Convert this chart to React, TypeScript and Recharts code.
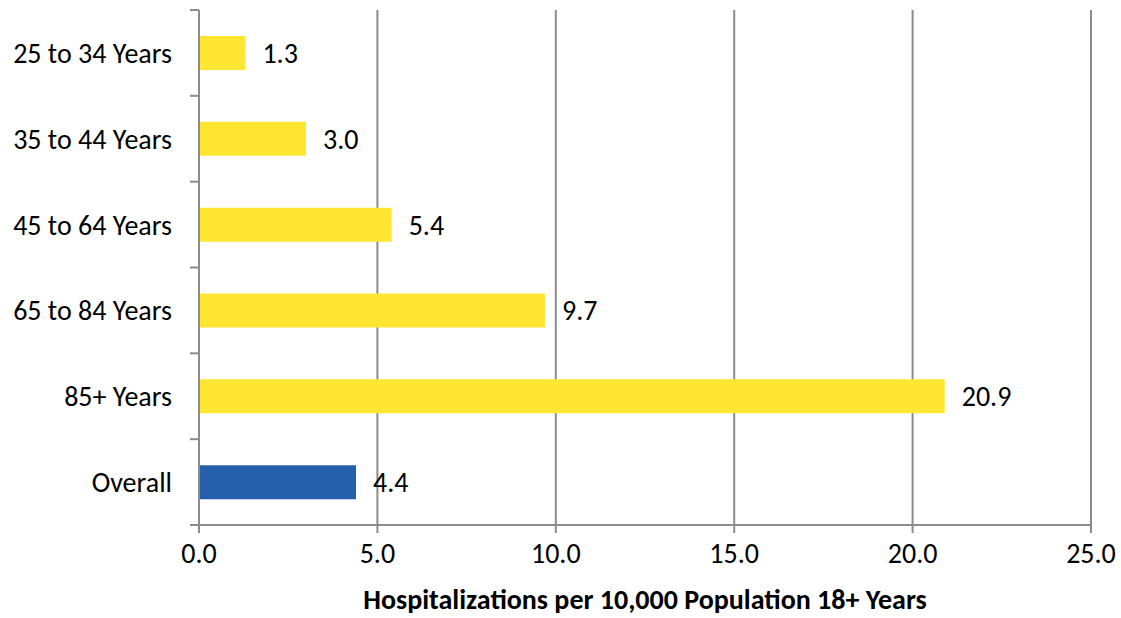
import { BarChart, Bar, XAxis, YAxis, CartesianGrid, Cell, LabelList } from 'recharts';

const categories = ['25 to 34 Years', '35 to 44 Years', '45 to 64 Years', '65 to 84 Years', '85+ Years', 'Overall'];
const rates = [1.3, 3.0, 5.4, 9.7, 20.9, 4.4];
const barColors = ['#FFE633', '#FFE633', '#FFE633', '#FFE633', '#FFE633', '#2360A9'];
const xTicks = [0, 5, 10, 15, 20, 25];
const axisTitle = 'Hospitalizations per 10,000 Population 18+ Years';

const FONT = 'Carlito, Calibri, Lato, sans-serif';
const FS = 28;
const GRID = '#8c8c8c';

const data = categories.map((name, i) => ({ name, rate: rates[i] }));

// category ticks sit between bands, like Excel does
function CategoryTick(props: any) {
    const { x, y, payload, index } = props;
    const half = payload.offset || 0;
    const axisX = x + 9 + 18;
    return (
        <g>
            {index === 0 && <line x1={axisX - 9} x2={axisX} y1={y - half} y2={y - half} stroke={GRID} strokeWidth={2} />}
            <line x1={axisX - 9} x2={axisX} y1={y + half} y2={y + half} stroke={GRID} strokeWidth={2} />
            <text x={x} y={y} dy="0.36em" textAnchor="end" fontSize={FS} fill="#000" fontFamily={FONT}>
                {payload.value}
            </text>
        </g>
    );
}

function AxisTitle(props: any) {
    const vb = props.viewBox;
    return (
        <text x={vb.x + vb.width / 2} y={vb.y + 84} textAnchor="middle" fontSize={FS} fontWeight={700} fill="#000" fontFamily={FONT}>
            {axisTitle}
        </text>
    );
}

export default function App() {
    return (
        <div style={{ position: 'absolute', left: 0, top: 0, background: '#fff' }}>
            <BarChart
                width={1121}
                height={618}
                data={data}
                layout="vertical"
                margin={{ top: 10, right: 30, left: 0, bottom: 0 }}
                barCategoryGap={0}
            >
                <CartesianGrid horizontal={false} stroke={GRID} strokeWidth={2} />
                <XAxis
                    type="number"
                    domain={[0, 25]}
                    ticks={xTicks}
                    tickFormatter={(v: number) => v.toFixed(1)}
                    stroke={GRID}
                    strokeWidth={2}
                    tickSize={8}
                    tickMargin={10}
                    tick={{ fontSize: FS, fill: '#000', fontFamily: FONT }}
                    height={93}
                    label={<AxisTitle />}
                />
                <YAxis
                    type="category"
                    dataKey="name"
                    width={199}
                    stroke={GRID}
                    strokeWidth={2}
                    tickLine={false}
                    tickSize={9}
                    tickMargin={18}
                    tick={<CategoryTick />}
                    interval={0}
                />
                <Bar dataKey="rate" barSize={34} isAnimationActive={false}>
                    {data.map((d, i) => (
                        <Cell key={d.name} fill={barColors[i]} />
                    ))}
                    <LabelList
                        dataKey="rate"
                        position="right"
                        offset={17}
                        formatter={(v: any) => Number(v).toFixed(1)}
                        style={{ fontSize: FS, fill: '#000', fontFamily: FONT }}
                    />
                </Bar>
            </BarChart>
        </div>
    );
}
